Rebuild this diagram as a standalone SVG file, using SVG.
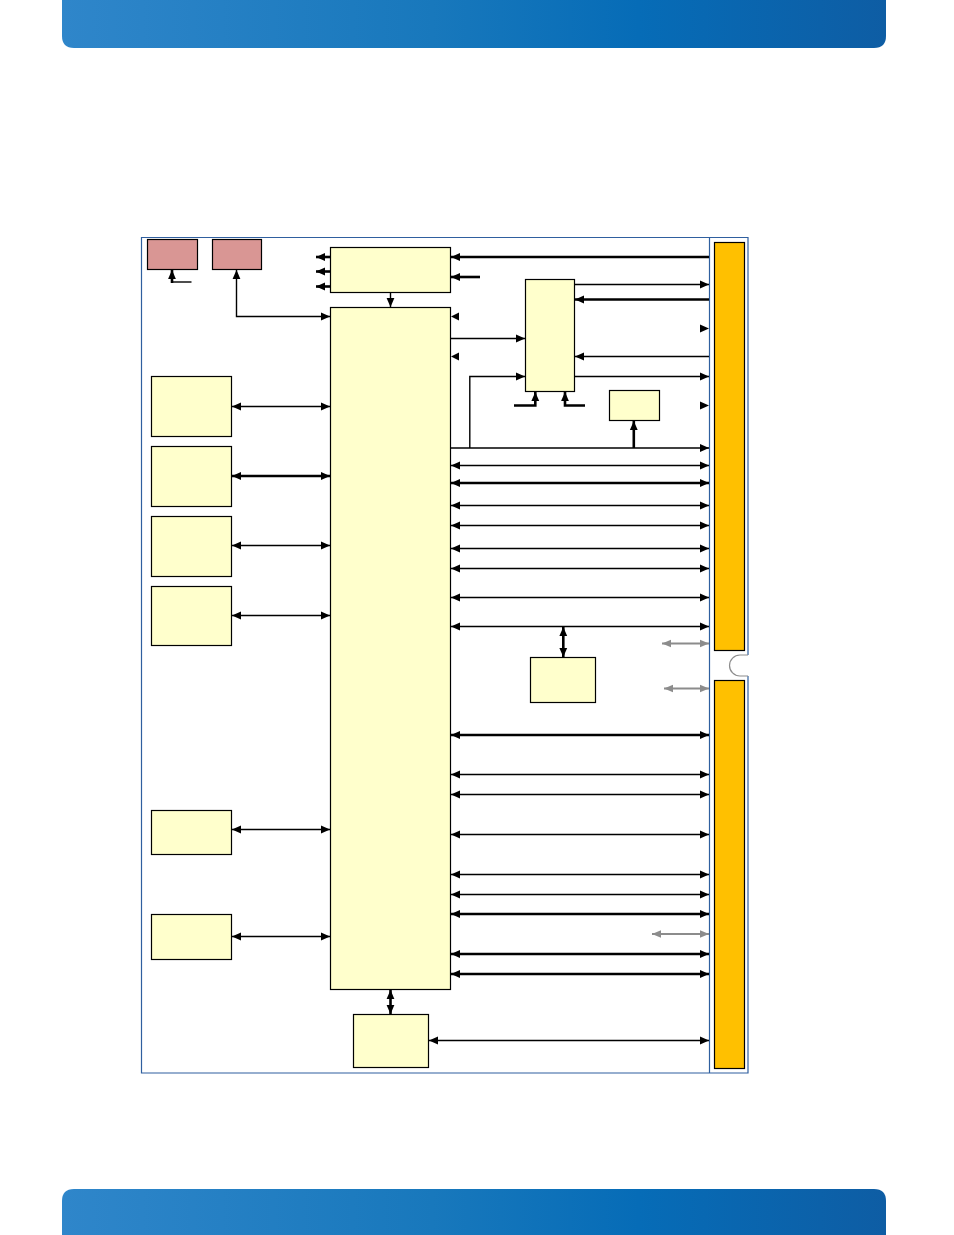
<svg xmlns="http://www.w3.org/2000/svg" width="954" height="1235" viewBox="0 0 954 1235">
<defs>
<linearGradient id="hdr" x1="0" y1="0" x2="1" y2="0">
<stop offset="0" stop-color="#2F86CA"/>
<stop offset="0.45" stop-color="#1878BC"/>
<stop offset="0.7" stop-color="#066CB7"/>
<stop offset="1" stop-color="#0E5DA4"/>
</linearGradient>
<marker id="ah" markerUnits="userSpaceOnUse" markerWidth="9" markerHeight="9" viewBox="0 0 9 9" refX="9" refY="4.5" orient="auto-start-reverse"><path d="M0,0.6 L9,4.5 L0,8.4 z" fill="#000"/></marker>
<marker id="ag" markerUnits="userSpaceOnUse" markerWidth="9" markerHeight="9" viewBox="0 0 9 9" refX="9" refY="4.5" orient="auto-start-reverse"><path d="M0,0.8 L9,4.5 L0,8.2 z" fill="#8C8C8C"/></marker>
</defs>
<style>
.y{fill:#FFFFCC;stroke:#000;stroke-width:1.2}
.p{fill:#D99694;stroke:#000;stroke-width:1.2}
.o{fill:#FFC000;stroke:#000;stroke-width:1.2}
.t{stroke:#000;stroke-width:1.4;fill:none}
.k{stroke:#000;stroke-width:2.6;fill:none}
.g{stroke:#8C8C8C;stroke-width:2;fill:none}
.e{marker-end:url(#ah)}
.b{marker-start:url(#ah);marker-end:url(#ah)}
.gb{marker-start:url(#ag);marker-end:url(#ag)}
.fr{stroke:#2F5F9F;stroke-width:1.2;fill:none}
</style>
<rect width="954" height="1235" fill="#fff"/>
<path d="M62,0 H886 V36 Q886,48 874,48 H74 Q62,48 62,36 Z" fill="url(#hdr)"/>
<path d="M74,1189 H874 Q886,1189 886,1201 V1235 H62 V1201 Q62,1189 74,1189 Z" fill="url(#hdr)"/>

<g id="frame">
<path class="fr" d="M748,655 V237.5 H141.5 V1073 H748 V676"/>
<line class="fr" x1="709.5" y1="237.5" x2="709.5" y2="1073"/>
<path d="M748,655 H740 A10.5,10.5 0 0 0 740,676 H748" fill="none" stroke="#8C8C8C" stroke-width="1.2"/>
</g>

<g id="connector-top"><rect class="o" x="714.5" y="242.5" width="30" height="408"/></g>
<g id="connector-bottom"><rect class="o" x="714.5" y="680.5" width="30" height="388"/></g>

<g id="pink1"><rect class="p" x="147.5" y="239.5" width="50" height="30"/></g>
<g id="pink2"><rect class="p" x="212.5" y="239.5" width="49" height="30"/></g>
<g id="top-box"><rect class="y" x="330.5" y="247.5" width="120" height="45"/></g>
<g id="main"><rect class="y" x="330.5" y="307.5" width="120" height="682"/></g>
<g id="tall-box"><rect class="y" x="525.5" y="279.5" width="49" height="112"/></g>
<g id="small-box"><rect class="y" x="609.5" y="390.5" width="50" height="30"/></g>
<g id="left1"><rect class="y" x="151.5" y="376.5" width="80" height="60"/></g>
<g id="left2"><rect class="y" x="151.5" y="446.5" width="80" height="60"/></g>
<g id="left3"><rect class="y" x="151.5" y="516.5" width="80" height="60"/></g>
<g id="left4"><rect class="y" x="151.5" y="586.5" width="80" height="59"/></g>
<g id="left5"><rect class="y" x="151.5" y="810.5" width="80" height="44"/></g>
<g id="left6"><rect class="y" x="151.5" y="914.5" width="80" height="45"/></g>
<g id="mid-box"><rect class="y" x="530.5" y="657.5" width="65" height="45"/></g>
<g id="bottom-box"><rect class="y" x="353.5" y="1014.5" width="75" height="53"/></g>

<g id="connectors">
<line class="k e" x1="330" y1="257" x2="316" y2="257"/>
<line class="k e" x1="330" y1="271.5" x2="316" y2="271.5"/>
<line class="k e" x1="330" y1="286.5" x2="316" y2="286.5"/>
<line class="t" x1="191.5" y1="282" x2="171" y2="282"/>
<line class="k e" x1="172" y1="283" x2="172" y2="270"/>
<polyline class="t b" points="330,316.5 236.5,316.5 236.5,270"/>
<line class="t e" x1="390.5" y1="292.5" x2="390.5" y2="307"/>
<line class="k e" x1="709" y1="257" x2="451" y2="257"/>
<line class="k e" x1="480" y1="277" x2="451" y2="277"/>
<path d="M451,316.5 L459,312.6 L459,320.4 z"/>
<path d="M451,356.5 L459,352.6 L459,360.4 z"/>
<line class="t e" x1="451" y1="338.5" x2="525" y2="338.5"/>
<polyline class="t e" points="469.8,448 469.8,376.5 525,376.5"/>
<line class="t e" x1="575" y1="284.5" x2="709" y2="284.5"/>
<line class="k e" x1="709" y1="299.5" x2="575" y2="299.5"/>
<path d="M709,328.5 L700,324.6 L700,332.4 z"/>
<line class="t e" x1="709" y1="356.5" x2="575" y2="356.5"/>
<line class="t e" x1="575" y1="376.5" x2="709" y2="376.5"/>
<path d="M709,405.5 L700,401.6 L700,409.4 z"/>
<polyline class="k e" points="514,405.5 535.3,405.5 535.3,392"/>
<polyline class="k e" points="585,405.5 565,405.5 565,392"/>
<line class="k e" x1="633.8" y1="448" x2="633.8" y2="421"/>
<line class="t e" x1="451" y1="448" x2="709" y2="448"/>
<line class="t b" x1="451" y1="465.5" x2="709" y2="465.5"/>
<line class="k b" x1="451" y1="483" x2="709" y2="483"/>
<line class="t b" x1="451" y1="505.5" x2="709" y2="505.5"/>
<line class="t b" x1="451" y1="525.5" x2="709" y2="525.5"/>
<line class="t b" x1="451" y1="548.5" x2="709" y2="548.5"/>
<line class="t b" x1="451" y1="568.5" x2="709" y2="568.5"/>
<line class="t b" x1="451" y1="597.5" x2="709" y2="597.5"/>
<line class="t b" x1="451" y1="626.5" x2="709" y2="626.5"/>
<line class="k b" x1="563.3" y1="627" x2="563.3" y2="657"/>
<line class="g gb" x1="662" y1="643.5" x2="709" y2="643.5"/>
<line class="g gb" x1="664" y1="688.5" x2="709" y2="688.5"/>
<line class="k b" x1="451" y1="735" x2="709" y2="735"/>
<line class="t b" x1="451" y1="774.5" x2="709" y2="774.5"/>
<line class="t b" x1="451" y1="794.5" x2="709" y2="794.5"/>
<line class="t b" x1="451" y1="834.5" x2="709" y2="834.5"/>
<line class="t b" x1="451" y1="874.5" x2="709" y2="874.5"/>
<line class="t b" x1="451" y1="894.5" x2="709" y2="894.5"/>
<line class="k b" x1="451" y1="914" x2="709" y2="914"/>
<line class="g gb" x1="652" y1="934" x2="709" y2="934"/>
<line class="k b" x1="451" y1="954" x2="709" y2="954"/>
<line class="k b" x1="451" y1="974" x2="709" y2="974"/>
<line class="t b" x1="232" y1="406.5" x2="330" y2="406.5"/>
<line class="k b" x1="232" y1="476" x2="330" y2="476"/>
<line class="t b" x1="232" y1="545.5" x2="330" y2="545.5"/>
<line class="t b" x1="232" y1="615.5" x2="330" y2="615.5"/>
<line class="t b" x1="232" y1="829.5" x2="330" y2="829.5"/>
<line class="t b" x1="232" y1="936.5" x2="330" y2="936.5"/>
<line class="k b" x1="390.5" y1="990" x2="390.5" y2="1014"/>
<line class="t b" x1="429" y1="1040.5" x2="709" y2="1040.5"/>
</g>
</svg>
